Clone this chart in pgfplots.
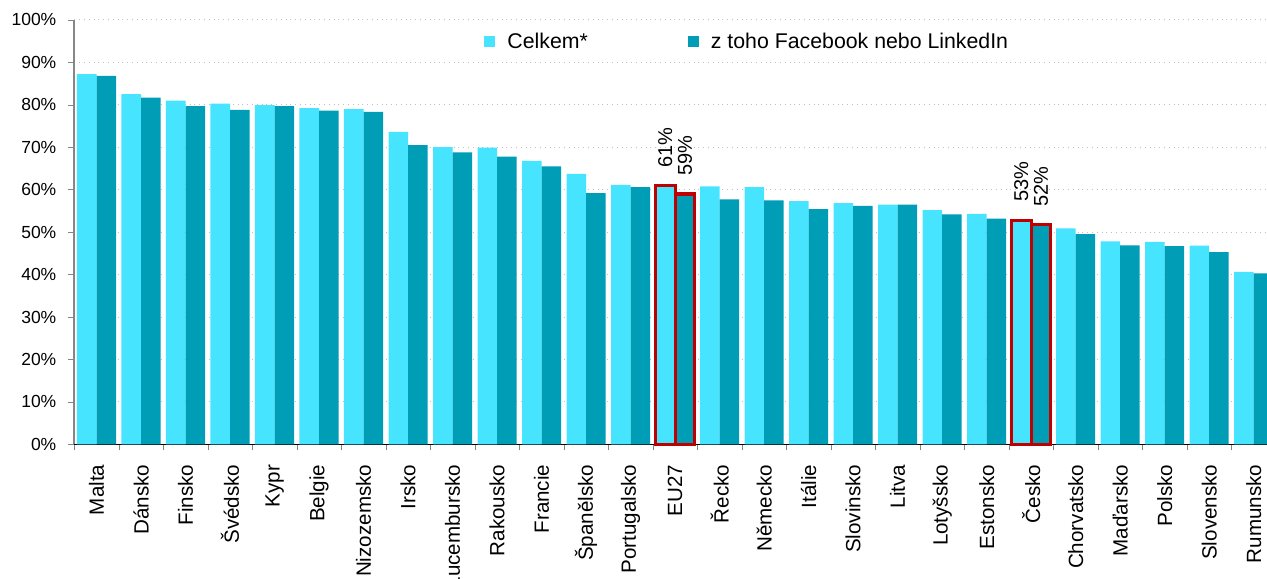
\documentclass[border=0pt]{standalone}
\usepackage{pgfplots}
\pgfplotsset{compat=1.18}
\usepackage{pgfplotstable}
\usepackage{fontspec}
\setmainfont{Liberation Sans}
\usetikzlibrary{calc}

\definecolor{lightcyan}{HTML}{47E4FF}
\definecolor{darkteal}{HTML}{009DB6}
\definecolor{hilite}{HTML}{C00000}
\definecolor{gridgray}{HTML}{BFBFBF}
\definecolor{axisgray}{HTML}{868686}

% idx  celkem  fb/linkedin
\pgfplotstableread{
x  celkem  fb
0  87.2  86.8
1  82.5  81.7
2  81.0  79.7
3  80.3  78.8
4  79.9  79.7
5  79.2  78.6
6  79.0  78.3
7  73.6  70.5
8  70.0  68.8
9  69.9  67.8
10 66.8  65.5
11 63.7  59.2
12 61.1  60.6
13 60.9  59.0
14 60.8  57.7
15 60.6  57.5
16 57.3  55.4
17 56.8  56.2
18 56.5  56.5
19 55.2  54.2
20 54.3  53.2
21 52.8  51.7
22 50.9  49.5
23 47.8  46.9
24 47.7  46.7
25 46.8  45.3
26 40.6  40.3
}\datatable

\begin{document}
\begin{tikzpicture}
\begin{axis}[
    name=ax,
    scale only axis,
    width=596.35pt, height=212.2pt,
    xmin=-0.5, xmax=26.30,
    ymin=0, ymax=100,
    clip=false,
    axis x line*=bottom,
    axis y line*=left,
    x axis line style={black, -},
    y axis line style={axisgray, line width=1pt, -},
    tick align=outside,
    xtick={0,...,26},
    major x tick style={draw=none},
    minor xtick={-0.5,0.5,...,26.5},
    minor x tick style={axisgray},
    minor tick length=3pt,
    xticklabels={Malta,Dánsko,Finsko,Švédsko,Kypr,Belgie,Nizozemsko,Irsko,Lucembursko,Rakousko,Francie,Španělsko,Portugalsko,EU27,Řecko,Německo,Itálie,Slovinsko,Litva,Lotyšsko,Estonsko,Česko,Chorvatsko,Maďarsko,Polsko,Slovensko,Rumunsko},
    xticklabel style={rotate=90, anchor=east, inner sep=0pt, font=\fontsize{10.3}{12}\selectfont},
    xticklabel shift=7pt,
    ytick={0,10,...,100},
    y tick style={axisgray},
    major tick length=3pt,
    yticklabel={\pgfmathprintnumber{\tick}\%},
    yticklabel style={inner sep=0pt, font=\fontsize{8.75}{10}\selectfont},
    yticklabel shift=5.8pt,
    /pgf/number format/assume math mode=true,
    ymajorgrids,
    major grid style={gridgray, dotted},
    legend columns=2,
    legend cell align=left,
    legend image code/.code={\fill[#1] (0pt,-2.75pt) rectangle (5.5pt,2.75pt);},
    legend style={at={(rel axis cs:0.3435,0.948)}, anchor=west, draw=none, fill=none,
        inner sep=0pt, font=\fontsize{10.65}{12}\selectfont,
        /tikz/every odd column/.append style={column sep=4pt},
        /tikz/every even column/.append style={column sep=48pt}},
]
\addplot[ybar, bar width=0.44, bar shift=-0.22, fill=lightcyan, draw=none]
    table[x=x, y=celkem] {\datatable};
\addlegendentry{Celkem*}
\addplot[ybar, bar width=0.44, bar shift=0.22, fill=darkteal, draw=none]
    table[x=x, y=fb] {\datatable};
\addlegendentry{z toho Facebook nebo LinkedIn}

% highlighted EU27 and Česko (bars placed at their shifted positions)
\addplot[ybar, bar width=0.44, bar shift=0, draw=hilite, line width=1.6pt, fill=none, forget plot,
    point meta=explicit symbolic, nodes near coords,
    every node near coord/.append style={rotate=90, anchor=west, text=black,
        font=\fontsize{10}{12}\selectfont, xshift=5pt}]
    coordinates {(12.78,60.9) [61\%] (13.22,59.0) [59\%] (20.78,52.8) [53\%] (21.22,51.7) [52\%]};
\end{axis}
\pgfresetboundingbox
\path[use as bounding box] ($(ax.south west)+(-37.15pt,-66.85pt)$) rectangle ($(ax.north east)+(0pt,9.95pt)$);
\end{tikzpicture}
\end{document}
